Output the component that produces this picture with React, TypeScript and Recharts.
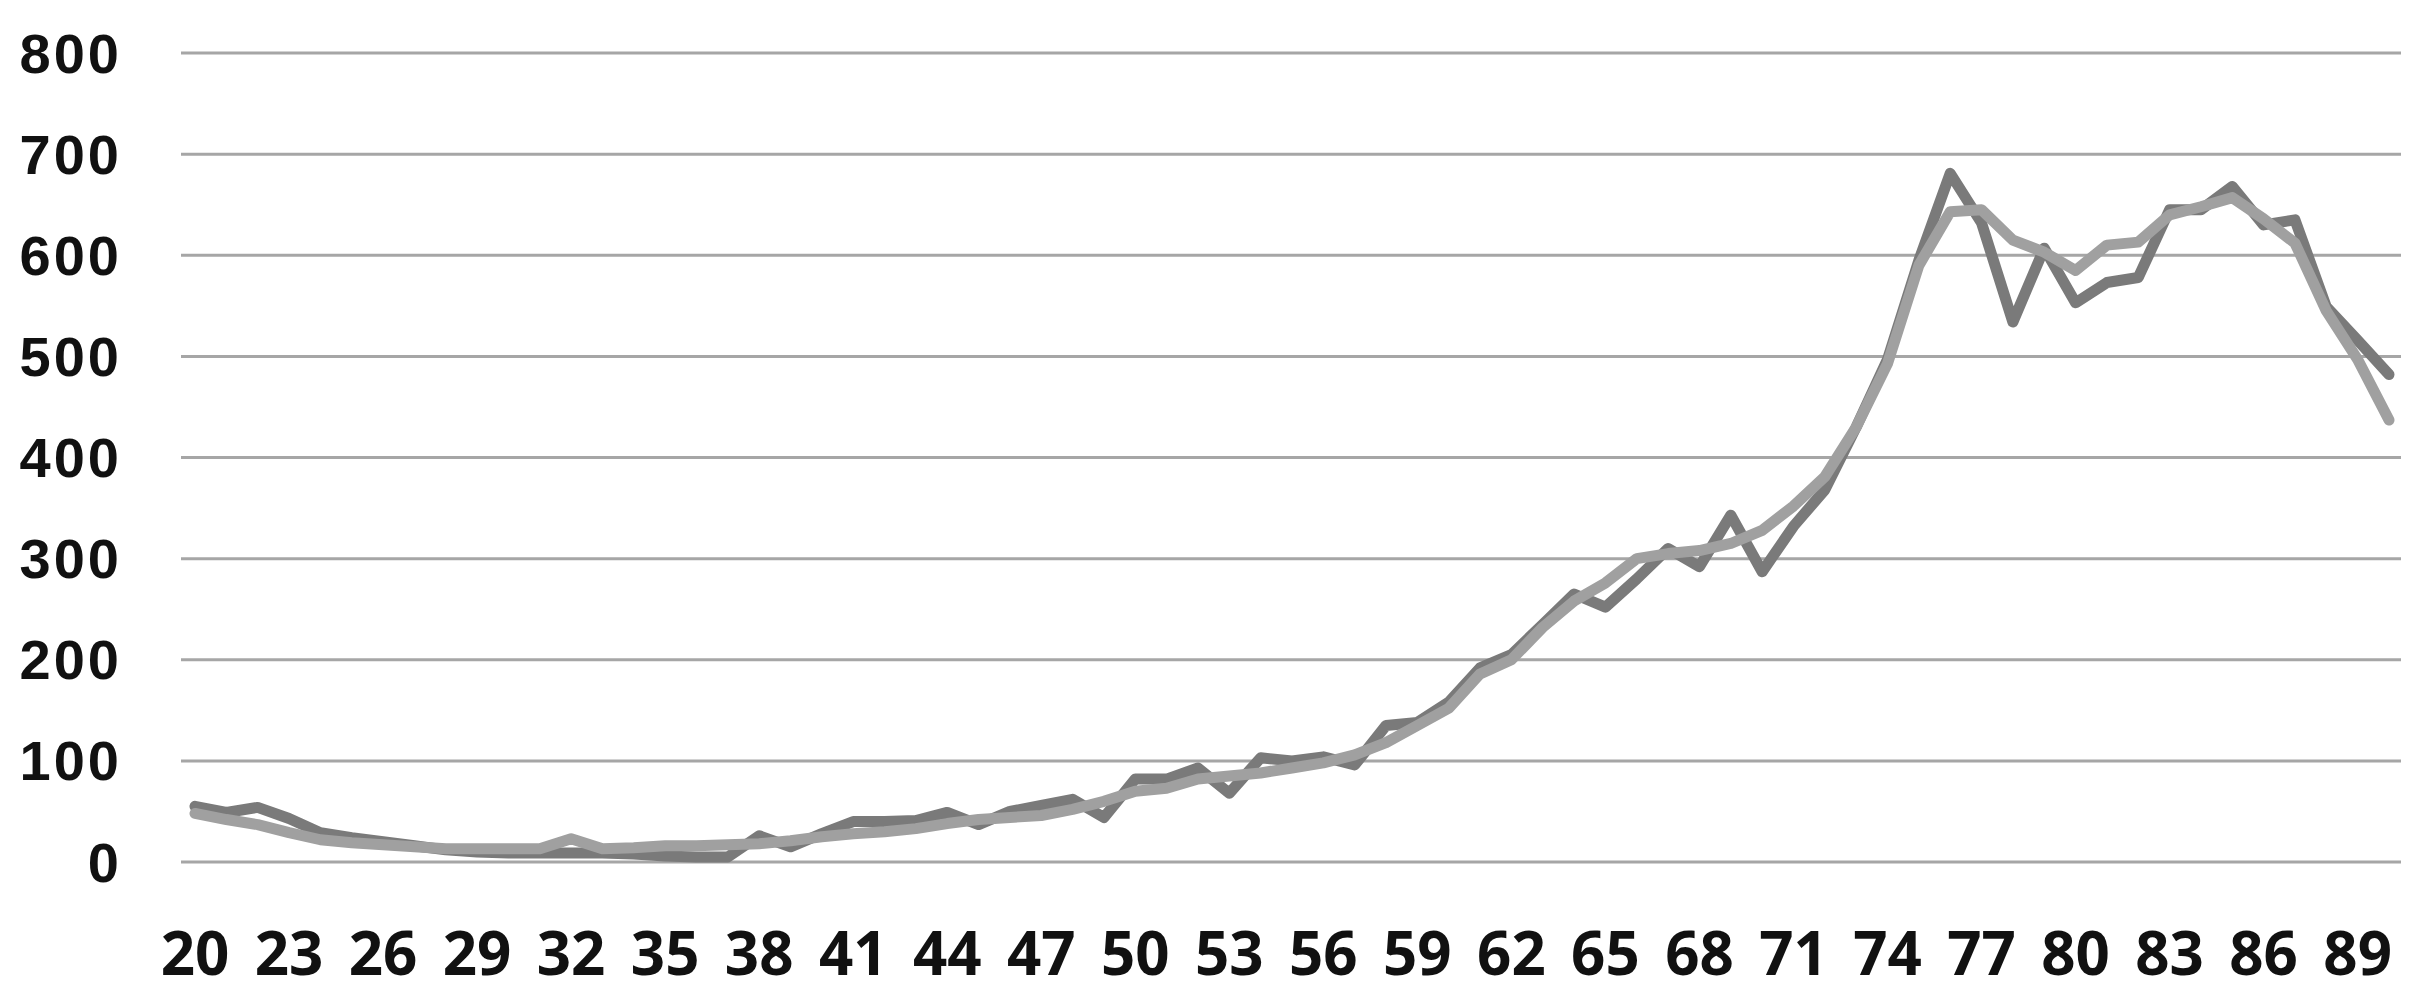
import React from 'react';
import { LineChart, Line, XAxis, YAxis, CartesianGrid } from 'recharts';

const ages: number[] = [
  20, 21, 22, 23, 24, 25, 26, 27, 28, 29,
  30, 31, 32, 33, 34, 35, 36, 37, 38, 39,
  40, 41, 42, 43, 44, 45, 46, 47, 48, 49,
  50, 51, 52, 53, 54, 55, 56, 57, 58, 59,
  60, 61, 62, 63, 64, 65, 66, 67, 68, 69,
  70, 71, 72, 73, 74, 75, 76, 77, 78, 79,
  80, 81, 82, 83, 84, 85, 86, 87, 88, 89,
  90,
];

const seriesDark: number[] = [
  55, 49, 54, 43, 29, 24, 20, 16, 12, 10,
  9, 9, 9, 9, 8, 6, 5, 5, 26, 15,
  28, 40, 40, 41, 49, 37, 50, 56, 62, 44,
  82, 82, 93, 68, 103, 100, 104, 96, 135, 138,
  158, 192, 205, 235, 265, 252, 280, 310, 292, 343,
  287, 332, 368, 430, 497, 595, 681, 632, 534, 607,
  553, 573, 578, 645, 645, 668, 630, 635, 549, 516,
  482,
];

const seriesLight: number[] = [
  48, 42, 37, 29, 22, 19, 17, 15, 13, 13,
  13, 13, 23, 13, 14, 16, 16, 17, 18, 21,
  25, 28, 30, 33, 38, 42, 44, 46, 52, 60,
  70, 73, 82, 85, 88, 93, 98, 106, 118, 135,
  152, 186, 200, 232, 258, 276, 300, 305, 308, 315,
  328, 352, 381, 430, 493, 590, 643, 645, 615, 603,
  585, 610, 613, 640, 648, 657, 636, 612, 545, 497,
  437,
];

const yTicks: number[] = [0, 100, 200, 300, 400, 500, 600, 700, 800];

const data = ages.map((age, i) => ({
  age,
  dark: seriesDark[i],
  light: seriesLight[i],
}));

const XTick = (props: any) => {
  const { x, y, payload } = props;
  return (
    <text
      x={x}
      y={y}
      textAnchor="middle"
      dominantBaseline="central"
      fontFamily="'Open Sans', sans-serif"
      fontWeight={700}
      fontSize={60}
      fill="#111"
    >
      {payload.value}
    </text>
  );
};

const YTick = (props: any) => {
  const { x, y, payload } = props;
  return (
    <text
      x={x}
      y={y}
      textAnchor="end"
      dominantBaseline="central"
      fontFamily="'Liberation Sans', Arial, sans-serif"
      fontWeight={700}
      fontSize={56}
      letterSpacing={3}
      fill="#111"
    >
      {payload.value}
    </text>
  );
};

export default function App() {
  return (
    <div style={{ position: 'absolute', left: 0, top: 0, width: 2420, height: 993, background: '#fff' }}>
      <LineChart
        width={2420}
        height={993}
        data={data}
        margin={{ top: 53, right: 19, bottom: 0, left: 0 }}
      >
        <CartesianGrid horizontal={true} vertical={false} stroke="#a6a6a6" strokeWidth={3} />
        <XAxis
          dataKey="age"
          type="category"
          interval={2}
          axisLine={false}
          tickLine={false}
          tickSize={0}
          tickMargin={90}
          height={131}
          padding={{ left: 14, right: 12 }}
          tick={<XTick />}
        />
        <YAxis
          domain={[0, 800]}
          ticks={yTicks}
          axisLine={false}
          tickLine={false}
          tickSize={0}
          tickMargin={59}
          width={181}
          tick={<YTick />}
        />
        <Line
          type="linear"
          dataKey="dark"
          stroke="#7a7a7a"
          strokeWidth={11}
          strokeLinejoin="round"
          strokeLinecap="round"
          dot={false}
          isAnimationActive={false}
        />
        <Line
          type="linear"
          dataKey="light"
          stroke="#a0a0a0"
          strokeWidth={11}
          strokeLinejoin="round"
          strokeLinecap="round"
          dot={false}
          isAnimationActive={false}
        />
      </LineChart>
    </div>
  );
}
